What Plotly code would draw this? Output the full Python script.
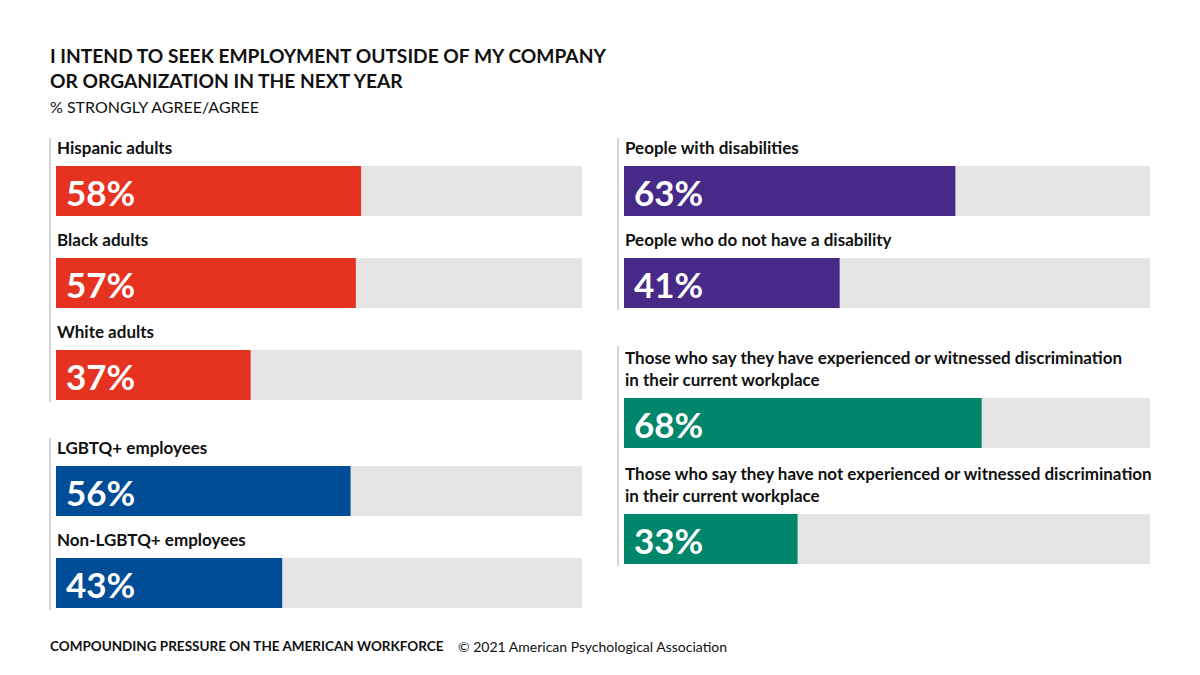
import plotly.graph_objects as go

# ---- data ----
left_labels = ["Hispanic adults", "Black adults", "White adults",
               "LGBTQ+ employees", "Non-LGBTQ+ employees"]
left_values = [58, 57, 37, 56, 43]
left_groups = [0, 0, 0, 1, 1]
left_colors = ["#E63220", "#E63220", "#E63220", "#004C97", "#004C97"]

right_labels = ["People with disabilities", "People who do not have a disability",
                "Those who say they have experienced or witnessed discrimination<br>in their current workplace",
                "Those who say they have not experienced or witnessed discrimination<br>in their current workplace"]
right_values = [63, 41, 68, 33]
right_groups = [0, 0, 1, 1]
right_colors = ["#472A87", "#472A87", "#00866B", "#00866B"]

title = "I INTEND TO SEEK EMPLOYMENT OUTSIDE OF MY COMPANY<br>OR ORGANIZATION IN THE NEXT YEAR"
subtitle = "% STRONGLY AGREE/AGREE"
footer_a = "COMPOUNDING PRESSURE ON THE AMERICAN WORKFORCE"
footer_b = "© 2021 American Psychological Association"

# ---- layout constants (pixels) ----
W, H = 1200, 675
BAR_H = 50
FIRST_TOP = 166
PITCH = 92
LINE_EXTRA = 24
GROUP_GAP = 24
GRAY = "#E5E5E5"
FONT = "Lato"


def positions(labels, groups):
    tops = []
    top = FIRST_TOP
    for i, lab in enumerate(labels):
        extra = lab.count("<br>") * LINE_EXTRA
        if i > 0:
            top += PITCH + extra
            if groups[i] != groups[i - 1]:
                top += GROUP_GAP
        tops.append(top)
    return tops


fig = go.Figure()
annotations = []
shapes = []

columns = [
    ("x", "x", 56, 582, 50, left_labels, left_values, left_groups, left_colors),
    ("x2", "x2", 624, 1150, 618, right_labels, right_values, right_groups, right_colors),
]

for axname, xref, x0px, x1px, linepx, labels, values, groups, colors in columns:
    tops = positions(labels, groups)
    centers = [t + BAR_H / 2 for t in tops]
    # background bars
    fig.add_trace(go.Bar(
        orientation="h", y=centers, x=[100] * len(values), base=0, width=BAR_H,
        marker=dict(color=GRAY, line=dict(width=0)), xaxis=axname, yaxis="y",
        hoverinfo="skip", showlegend=False))
    # value bars
    fig.add_trace(go.Bar(
        orientation="h", y=centers, x=values, base=0, width=BAR_H,
        marker=dict(color=colors, line=dict(width=0)), xaxis=axname, yaxis="y",
        showlegend=False))
    for lab, v, t, c in zip(labels, values, tops, centers):
        annotations.append(dict(
            xref=xref, yref="y", x=0, y=t - 6, xanchor="left", yanchor="bottom",
            text=f"<b>{lab}</b>", showarrow=False, align="left",
            font=dict(family=FONT, size=17, color="#111111"), xshift=-1))
        annotations.append(dict(
            xref=xref, yref="y", x=0, y=c + 1, xanchor="left", yanchor="middle",
            text=f"<b>{v}%</b>", showarrow=False, xshift=8,
            font=dict(family=FONT, size=35, color="white")))
    # vertical group lines
    for g in sorted(set(groups)):
        idx = [i for i, gg in enumerate(groups) if gg == g]
        first, last = idx[0], idx[-1]
        ytop = tops[first] - 28 - labels[first].count("<br>") * LINE_EXTRA
        ybot = tops[last] + BAR_H + 2
        shapes.append(dict(type="line", xref="paper", yref="y",
                           x0=linepx / W, x1=linepx / W, y0=ytop, y1=ybot,
                           line=dict(color="#C8C8C8", width=1.5)))

annotations += [
    dict(xref="paper", yref="y", x=48 / W, y=42, xanchor="left", yanchor="top",
         text=f"<b>{title}</b>", showarrow=False, align="left",
         font=dict(family=FONT, size=19.2, color="#111111")),
    dict(xref="paper", yref="y", x=48 / W, y=95, xanchor="left", yanchor="top",
         text=subtitle, showarrow=False, align="left",
         font=dict(family=FONT, size=16, color="#111111")),
    dict(xref="paper", yref="y", x=48 / W, y=646, xanchor="left", yanchor="middle",
         text=f"<b>{footer_a}</b>", showarrow=False,
         font=dict(family=FONT, size=13.5, color="#111111")),
    dict(xref="paper", yref="y", x=456 / W, y=646, xanchor="left", yanchor="middle",
         text=footer_b, showarrow=False,
         font=dict(family=FONT, size=14, color="#111111")),
]

fig.update_layout(
    width=W, height=H, margin=dict(l=0, r=0, t=0, b=0),
    paper_bgcolor="white", plot_bgcolor="white", barmode="overlay",
    xaxis=dict(domain=[56 / W, 582 / W], range=[0, 100], visible=False, fixedrange=True),
    xaxis2=dict(domain=[624 / W, 1150 / W], range=[0, 100], visible=False, fixedrange=True),
    yaxis=dict(domain=[0, 1], range=[H, 0], visible=False, fixedrange=True),
    annotations=annotations, shapes=shapes,
)

fig.write_html("out.html")
